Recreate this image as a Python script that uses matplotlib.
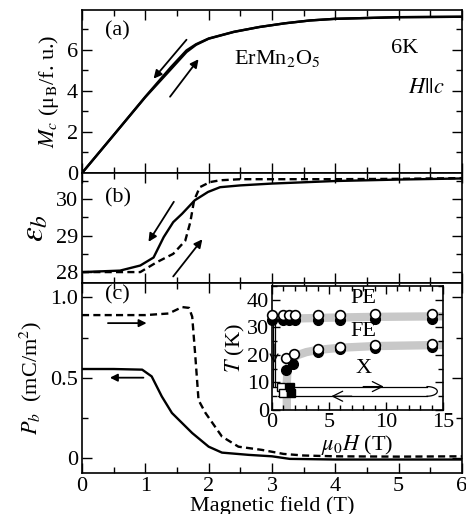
import numpy as np
import matplotlib
matplotlib.use("Agg")
import matplotlib.pyplot as plt
from matplotlib.ticker import MultipleLocator, FixedLocator, FixedFormatter

plt.rcParams['font.family'] = ['Liberation Serif', 'DejaVu Serif']
plt.rcParams['mathtext.fontset'] = 'stix'
plt.rcParams['font.size'] = 16

# ---------------- data ----------------
# panel (a): magnetization Mc vs field
H_a = [0, 0.5, 1.0, 1.4, 1.65, 1.8, 2.0, 2.4, 2.8, 3.2, 3.6, 4.0, 5.0, 6.0]
M_up = [0, 1.85, 3.7, 5.05, 5.9, 6.25, 6.55, 6.88, 7.12, 7.3, 7.44, 7.52, 7.6, 7.62]
M_dn = [0, 1.85, 3.72, 5.15, 5.98, 6.28, 6.56, 6.89, 7.12, 7.3, 7.44, 7.52, 7.6, 7.62]

# panel (b): dielectric constant
H_b_dn = [0, 0.6, 0.92, 1.13, 1.29, 1.44, 1.58, 1.78, 1.99, 2.18, 2.5, 3.0, 4.0, 5.0, 6.0]
eps_dn = [28.0, 28.04, 28.18, 28.4, 28.96, 29.37, 29.6, 29.97, 30.2, 30.33, 30.38, 30.43, 30.5, 30.54, 30.57]
H_b_up = [0, 0.6, 0.92, 1.18, 1.44, 1.63, 1.71, 1.77, 1.86, 2.02, 2.18, 2.5, 3.0, 4.0, 5.0, 6.0]
eps_up = [28.0, 28.0, 28.0, 28.27, 28.5, 28.86, 29.37, 29.97, 30.33, 30.47, 30.52, 30.55, 30.55, 30.55, 30.56, 30.58]

# panel (c): polarization
H_c_up = [0, 0.5, 1.0, 1.37, 1.58, 1.69, 1.74, 1.79, 1.84, 1.95, 2.21, 2.47, 2.84, 3.18, 3.5, 4.0, 5.0, 6.0]
P_up = [0.89, 0.89, 0.89, 0.90, 0.94, 0.935, 0.88, 0.63, 0.36, 0.28, 0.133, 0.07, 0.05, 0.025, 0.015, 0.01, 0.008, 0.01]
H_c_dn = [0, 0.5, 0.95, 1.1, 1.26, 1.42, 1.74, 2.0, 2.21, 2.63, 3.0, 3.28, 4.0, 5.0, 6.0]
P_dn = [0.554, 0.554, 0.55, 0.508, 0.383, 0.28, 0.155, 0.07, 0.033, 0.019, 0.01, -0.006, -0.01, -0.01, -0.01]

# inset: phase diagram
pe_H = [0, 1.0, 1.5, 2.0, 4.0, 6.0, 9.0, 14.0]
pe_T_open = [34.6, 34.6, 34.6, 34.6, 34.6, 34.6, 34.8, 35.0]
pe_T_fill = [32.8, 32.8, 32.8, 32.8, 32.8, 32.8, 33.0, 33.2]
fe_H_open = [1.2, 1.9, 4.0, 6.0, 9.0, 14.0]
fe_T_open = [19.0, 20.5, 22.3, 23.0, 23.5, 24.0]
fe_H_fill = [1.2, 1.8, 4.0, 6.0, 9.0, 14.0]
fe_T_fill = [14.5, 16.8, 21.0, 22.0, 22.5, 23.0]
x_H_open = [0.8, 1.0]
x_T_open = [8.5, 6.3]
x_H_fill = [1.6, 1.7]
x_T_fill = [8.3, 6.0]
pe_line_H = [0, 2, 5, 9, 15]
pe_line_T = [33.0, 33.2, 33.5, 33.8, 34.0]
fe_line_H = [1.3, 1.3, 1.35, 1.5, 1.8, 2.3, 3.0, 4.0, 6.0, 9.0, 15.0]
fe_line_T = [0, 10, 14, 16.5, 18.5, 20.0, 21.0, 21.8, 22.6, 23.2, 23.6]

# ---------------- figure ----------------
W, Hpx = 466, 514
fig = plt.figure(figsize=(W / 100, Hpx / 100), dpi=100)

def fx(px):
    return px / W

def fy(py):
    return 1 - py / Hpx

L, R = 82, 462
ax_a = fig.add_axes([fx(L), fy(173), fx(R - L), (173 - 10) / Hpx])
ax_b = fig.add_axes([fx(L), fy(283), fx(R - L), (283 - 173) / Hpx])
ax_c = fig.add_axes([fx(L), fy(473), fx(R - L), (473 - 283) / Hpx])

lw = 1.7
for ax in (ax_a, ax_b, ax_c):
    ax.set_xlim(0, 6)
    ax.xaxis.set_major_locator(MultipleLocator(1))
    ax.xaxis.set_minor_locator(MultipleLocator(0.5))
    ax.tick_params(which='both', direction='in', top=True, right=True, labelsize=16)
    ax.tick_params(which='major', length=7, width=1.0, pad=3)
    ax.tick_params(which='minor', length=4, width=1.0)
    for s in ax.spines.values():
        s.set_linewidth(1.2)

ax_a.tick_params(labelbottom=False)
ax_b.tick_params(labelbottom=False)

# (a)
ax_a.plot(H_a, M_up, color='black', lw=lw)
ax_a.plot(H_a, M_dn, color='black', lw=lw)
ax_a.set_ylim(0, 7.95)
ax_a.yaxis.set_major_locator(MultipleLocator(2))
ax_a.yaxis.set_minor_locator(MultipleLocator(1))
ax_a.set_ylabel('$M_c$ (μ$_\\mathrm{B}$/f. u.)', fontsize=16, labelpad=4)
ax_a.text(0.06, 0.93, '(a)', transform=ax_a.transAxes, fontsize=16, va='top')
ax_a.text(2.4, 5.6, 'ErMn$_2$O$_5$', fontsize=16, va='center')
ax_a.text(4.88, 6.05, '6K', fontsize=16, va='center')
ax_a.text(5.15, 4.1, '$H||c$', fontsize=16, va='center')
ap = dict(arrowstyle='-|>', color='black', lw=1.3, mutation_scale=12, shrinkA=0, shrinkB=0)
ax_a.annotate('', xy=(1.13, 4.6), xytext=(1.65, 6.5), arrowprops=ap)
ax_a.annotate('', xy=(1.84, 5.55), xytext=(1.39, 3.72), arrowprops=ap)

# (b)
ax_b.plot(H_b_dn, eps_dn, color='black', lw=lw)
ax_b.plot(H_b_up, eps_up, color='black', lw=lw, ls=(0, (3, 1.8)))
ax_b.set_ylim(27.7, 30.72)
ax_b.yaxis.set_major_locator(MultipleLocator(1))
ax_b.yaxis.set_minor_locator(MultipleLocator(0.5))
ax_b.set_ylabel('$\\varepsilon_b$', fontsize=24, labelpad=4)
ax_b.text(0.06, 0.86, '(b)', transform=ax_b.transAxes, fontsize=16, va='top')
ax_b.annotate('', xy=(1.05, 28.83), xytext=(1.45, 29.93), arrowprops=ap)
ax_b.annotate('', xy=(1.9, 28.9), xytext=(1.44, 27.88), arrowprops=ap)

# (c)
ax_c.plot(H_c_dn, P_dn, color='black', lw=lw)
ax_c.plot(H_c_up, P_up, color='black', lw=lw, ls=(0, (3, 1.8)))
ax_c.set_ylim(-0.094, 1.09)
ax_c.yaxis.set_major_locator(FixedLocator([0, 0.5, 1.0]))
ax_c.yaxis.set_major_formatter(FixedFormatter(['0', '0.5', '1.0']))
ax_c.yaxis.set_minor_locator(MultipleLocator(0.25))
ax_c.set_ylabel('$P_b$  (mC/m$^2$)', fontsize=16, labelpad=4)
ax_c.set_xlabel('Magnetic field (T)', fontsize=16, labelpad=0)
ax_c.text(0.06, 0.99, '(c)', transform=ax_c.transAxes, fontsize=16, va='top')
ap2 = dict(arrowstyle='-|>', color='black', lw=1.3, mutation_scale=11, shrinkA=0, shrinkB=0)
ax_c.annotate('', xy=(1.02, 0.84), xytext=(0.41, 0.84), arrowprops=ap2)
ax_c.annotate('', xy=(0.44, 0.50), xytext=(0.97, 0.50), arrowprops=ap2)

# inset
ins = fig.add_axes([fx(272), fy(410), fx(443 - 272), (410 - 286) / Hpx])
ins.set_facecolor('white')
ins.set_xlim(0, 15)
ins.set_ylim(0, 45)
ins.xaxis.set_major_locator(MultipleLocator(5))
ins.xaxis.set_minor_locator(MultipleLocator(1))
ins.yaxis.set_major_locator(MultipleLocator(10))
ins.yaxis.set_minor_locator(MultipleLocator(5))
ins.tick_params(which='both', direction='in', top=True, right=True, labelsize=16)
ins.tick_params(which='major', length=6, width=1.0, pad=2)
ins.tick_params(which='minor', length=3.5, width=1.0)
for s in ins.spines.values():
    s.set_linewidth(1.2)
ins.plot(pe_line_H, pe_line_T, color='#c8c8c8', lw=6, solid_capstyle='butt', zorder=1)
ins.plot(fe_line_H, fe_line_T, color='#c8c8c8', lw=6, solid_capstyle='butt', zorder=1)
ms = 7
ins.plot(pe_H, pe_T_fill, 'o', color='black', ms=ms, zorder=3, clip_on=False)
ins.plot(pe_H, pe_T_open, 'o', mfc='white', mec='black', mew=1.2, ms=ms, zorder=4, clip_on=False)
ins.plot(fe_H_fill, fe_T_fill, 'o', color='black', ms=ms, zorder=3)
ins.plot(fe_H_open, fe_T_open, 'o', mfc='white', mec='black', mew=1.2, ms=ms, zorder=4)
ins.plot(x_H_open, x_T_open, 's', mfc='white', mec='black', mew=1.0, ms=6, zorder=3)
ins.plot(x_H_fill, x_T_fill, 's', color='black', ms=6, zorder=3)

# measurement path: cooling at zero field, then field sweep loop
path_lw = 0.9
ins.plot([0.05, 0.05], [33, 8.5], color='black', lw=path_lw, zorder=2)
ins.plot([0.3, 0.3], [33, 8.5], color='black', lw=path_lw, zorder=2)
ins.plot([0.05, 0.3], [33, 33], color='black', lw=path_lw, zorder=2)
ins.annotate('', xy=(0.18, 17), xytext=(0.18, 24),
             arrowprops=dict(arrowstyle='->', color='black', lw=0.9, mutation_scale=14, shrinkA=0, shrinkB=0))
ins.plot([0.05, 13.6], [8.5, 8.5], color='black', lw=path_lw, zorder=2)
ins.plot([0.5, 13.6], [5.0, 5.0], color='black', lw=path_lw, zorder=2)
t = np.linspace(-np.pi / 2, np.pi / 2, 30)
ins.plot(13.6 + 0.9 * np.cos(t), 6.75 + 1.75 * np.sin(t), color='black', lw=path_lw, zorder=2)
ins.annotate('', xy=(9.8, 8.5), xytext=(8.0, 8.5),
             arrowprops=dict(arrowstyle='->', color='black', lw=0.9, mutation_scale=18, shrinkA=0, shrinkB=0))
ins.annotate('', xy=(5.2, 5.0), xytext=(7.0, 5.0),
             arrowprops=dict(arrowstyle='->', color='black', lw=0.9, mutation_scale=18, shrinkA=0, shrinkB=0))

ins.text(8.0, 40.5, 'PE', fontsize=16, ha='center', va='center')
ins.text(8.0, 28.5, 'FE', fontsize=16, ha='center', va='center')
ins.text(8.0, 15.0, 'X', fontsize=16, ha='center', va='center')
ins.set_xlabel('$\\mu_0H$ (T)', fontsize=16, labelpad=1)
ins.set_ylabel('$T$ (K)', fontsize=16, labelpad=0)

fig.savefig('out.png', dpi=100)
